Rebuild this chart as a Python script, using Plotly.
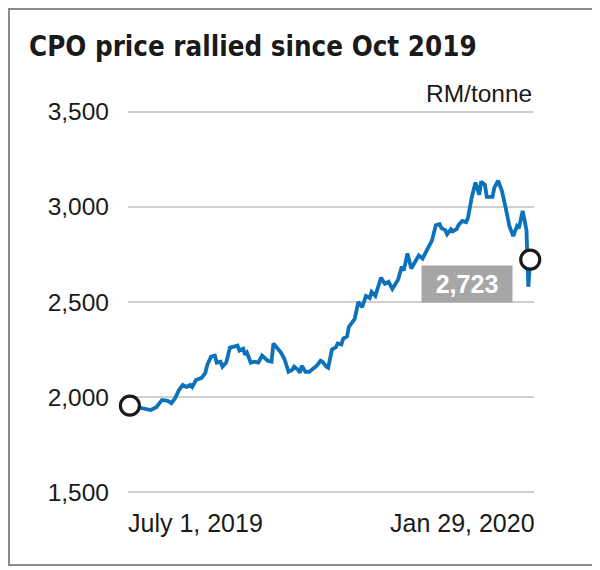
import plotly.graph_objects as go

# ---- data ----
dates = [
    "2019-07-01", "2019-07-05", "2019-07-08", "2019-07-12", "2019-07-15", "2019-07-18",
    "2019-07-21", "2019-07-23", "2019-07-25", "2019-07-27", "2019-07-29", "2019-07-31",
    "2019-08-02", "2019-08-03", "2019-08-05", "2019-08-08", "2019-08-10", "2019-08-11",
    "2019-08-13", "2019-08-15", "2019-08-16", "2019-08-18", "2019-08-19", "2019-08-21",
    "2019-08-23", "2019-08-25", "2019-08-27", "2019-08-28", "2019-08-30", "2019-08-31",
    "2019-09-01", "2019-09-03", "2019-09-05", "2019-09-07", "2019-09-09", "2019-09-12",
    "2019-09-14", "2019-09-15", "2019-09-17", "2019-09-19", "2019-09-21", "2019-09-23",
    "2019-09-25", "2019-09-26", "2019-09-28", "2019-09-29", "2019-09-30", "2019-10-02",
    "2019-10-04", "2019-10-06", "2019-10-08", "2019-10-10", "2019-10-11", "2019-10-13",
    "2019-10-14", "2019-10-16", "2019-10-18", "2019-10-19", "2019-10-21", "2019-10-22",
    "2019-10-24", "2019-10-25", "2019-10-28", "2019-10-30", "2019-11-01", "2019-11-03",
    "2019-11-05", "2019-11-06", "2019-11-08", "2019-11-11", "2019-11-13", "2019-11-15",
    "2019-11-17", "2019-11-20", "2019-11-22", "2019-11-23", "2019-11-25", "2019-11-27",
    "2019-11-29", "2019-12-01", "2019-12-03", "2019-12-05", "2019-12-08", "2019-12-10",
    "2019-12-12", "2019-12-13", "2019-12-15", "2019-12-16", "2019-12-18", "2019-12-19",
    "2019-12-21", "2019-12-22", "2019-12-24", "2019-12-26", "2019-12-27", "2019-12-29",
    "2019-12-31", "2020-01-02", "2020-01-03", "2020-01-05", "2020-01-06", "2020-01-09",
    "2020-01-10", "2020-01-12", "2020-01-14", "2020-01-16", "2020-01-18", "2020-01-20",
    "2020-01-22", "2020-01-23", "2020-01-25", "2020-01-26", "2020-01-27", "2020-01-28",
    "2020-01-29",
]
prices = [
    1955, 1945, 1940, 1932, 1947, 1985,
    1980, 1968, 1995, 2037, 2064, 2053,
    2064, 2053, 2090, 2101, 2128, 2170,
    2213, 2218, 2181, 2186, 2160, 2181,
    2260, 2266, 2271, 2245, 2255, 2223,
    2234, 2181, 2186, 2181, 2218, 2191,
    2186, 2282, 2255, 2234, 2197, 2133,
    2144, 2160, 2144, 2128, 2165, 2133,
    2133, 2149, 2165, 2191, 2186, 2160,
    2154, 2250, 2261, 2282, 2277, 2308,
    2319, 2370, 2410, 2500, 2473, 2532,
    2521, 2553, 2532, 2628, 2596, 2606,
    2569, 2617, 2686, 2665, 2755, 2676,
    2713, 2745, 2729, 2766, 2824, 2904,
    2910, 2888, 2878, 2856, 2883, 2872,
    2883, 2904, 2926, 2920, 2941, 3048,
    3128, 3064, 3133, 3117, 3053, 3053,
    3101, 3138, 3085, 2995, 2899, 2846,
    2899, 2888, 2979, 2931, 2878, 2580,
    2723,
]
y_ticks = [1500, 2000, 2500, 3000, 3500]
title_text = "CPO price rallied since Oct 2019"
unit_text = "RM/tonne"
start_label = "July 1, 2019"
end_label = "Jan 29, 2020"

LINE = "#0b72bb"
INK = "#1a1a1a"
FONT = "Liberation Sans, Arial, sans-serif"
TITLE_FONT = "Liberation Sans Narrow, DejaVu Sans Condensed, Liberation Sans, sans-serif"

# figure is placed 8px in from the page corner by the default page margin
W, H = 592, 562
ML, MT, MB = 120, 100, 74
MR = W - ML - 406
pw, ph = W - ML - MR, H - MT - MB

fig = go.Figure()
fig.add_trace(go.Scatter(
    x=dates, y=prices, mode="lines",
    line=dict(color=LINE, width=3.8),
    hoverinfo="skip", showlegend=False,
))
fig.add_trace(go.Scatter(
    x=[dates[0], dates[-1]], y=[prices[0], prices[-1]], mode="markers",
    marker=dict(size=19, color="white", line=dict(color=INK, width=3.2)),
    cliponaxis=False, hoverinfo="skip", showlegend=False,
))

annotations = [
    dict(text=unit_text, xref="paper", yref="paper", x=1, y=1 + 14 / ph,
         xanchor="right", yanchor="middle", showarrow=False, xshift=0,
         font=dict(family=FONT, size=24.5, color=INK)),
    dict(text=start_label, xref="x", yref="paper", x=dates[0], y=-27 / ph,
         xanchor="left", yanchor="middle", showarrow=False, xshift=-4,
         font=dict(family=FONT, size=25, color=INK)),
    dict(text=end_label, xref="x", yref="paper", x=dates[-1], y=-27 / ph,
         xanchor="right", yanchor="middle", showarrow=False, xshift=7,
         font=dict(family=FONT, size=25, color=INK)),
    dict(text="<b>%s</b>" % f"{prices[-1]:,}", xref="x", yref="y",
         x=dates[-1], y=prices[-1], xanchor="right", yanchor="middle",
         xshift=-17, yshift=-24, showarrow=False,
         width=86, height=32, borderpad=2, bgcolor="#a6a6a6",
         font=dict(family=FONT, size=25, color="white")),
]

frame = dict(type="rect", xref="paper", yref="paper",
             x0=(1 - ML) / pw, x1=(587 - ML) / pw,
             y0=(H - MB - 557) / ph, y1=(H - MB - 1) / ph,
             line=dict(color="#8a8a8a", width=2), fillcolor="rgba(0,0,0,0)",
             layer="below")

fig.update_layout(
    width=W, height=H,
    margin=dict(l=ML, r=MR, t=MT, b=MB),
    paper_bgcolor="white", plot_bgcolor="white",
    title=dict(text="<b>%s</b>" % title_text, x=21 / W, xref="container",
               xanchor="left", y=1 - 38 / H, yref="container", yanchor="middle",
               font=dict(family=TITLE_FONT, size=27.5, color=INK)),
    xaxis=dict(range=["2019-06-30", "2020-01-31"], showgrid=False,
               showticklabels=False, zeroline=False, showline=False, ticks=""),
    yaxis=dict(range=[1480, 3520], tickvals=y_ticks, tickformat=",",
               showgrid=True, gridcolor="#cfcfcf", gridwidth=1.6,
               zeroline=False, showline=False, ticks="",
               ticklabelstandoff=18,
               tickfont=dict(family=FONT, size=24.5, color=INK)),
    annotations=annotations,
    shapes=[frame],
)

fig.write_html("out.html")
